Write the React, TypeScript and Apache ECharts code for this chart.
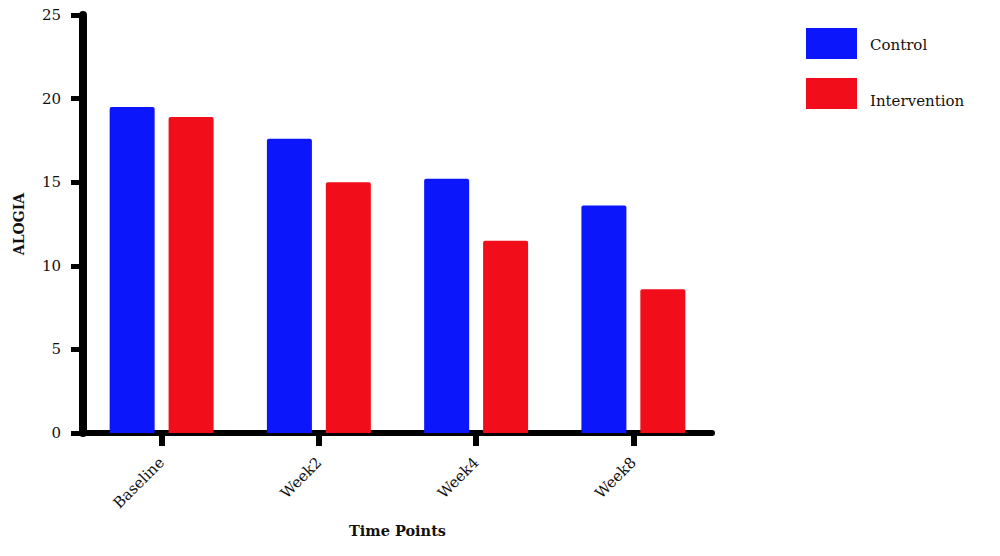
import React, { useEffect, useRef } from "react";
import * as echarts from "echarts";

const categories = ["Baseline", "Week2", "Week4", "Week8"];
const controlValues = [19.5, 17.6, 15.2, 13.6];
const interventionValues = [18.9, 15.0, 11.5, 8.6];
const seriesNames = ["Control", "Intervention"];
const yTicks = { min: 0, max: 25, interval: 5 };

const FONT = "DejaVu Serif";

export default function App() {
  const ref = useRef<HTMLDivElement>(null);
  useEffect(() => {
    if (!ref.current) return;
    const chart = echarts.init(ref.current, undefined, { renderer: "svg" });
    chart.setOption({
      animation: false,
      backgroundColor: "#ffffff",
      textStyle: { fontFamily: FONT },
      grid: { left: 83, right: 288, top: 15, bottom: 123, containLabel: false },
      legend: {
        orient: "vertical",
        left: 806,
        top: 28,
        padding: 0,
        itemWidth: 51,
        itemHeight: 31,
        itemGap: 19,
        icon: "rect",
        formatter: (name: string) => (name === seriesNames[0] ? `{a|${name}}` : `{b|${name}}`),
        textStyle: {
          fontFamily: FONT,
          fontSize: 15,
          color: "#111",
          padding: [0, 0, 0, 8],
          rich: {
            a: { fontFamily: FONT, fontSize: 15, color: "#111", padding: [2, 0, 0, 0] },
            b: { fontFamily: FONT, fontSize: 15, color: "#111", padding: [14, 0, 0, 0] },
          },
        },
        data: seriesNames,
      },
      xAxis: {
        type: "category",
        data: categories,
        name: "Time Points",
        nameLocation: "middle",
        nameGap: 90,
        nameTextStyle: { fontFamily: FONT, fontSize: 14.5, fontWeight: "bold", color: "#111" },
        axisLine: { lineStyle: { color: "#000", width: 6 } },
        axisTick: { show: true, alignWithLabel: true, length: 13, lineStyle: { color: "#000", width: 6 } },
        axisLabel: { rotate: 45, margin: 27, fontFamily: FONT, fontSize: 15, color: "#111" },
        splitLine: { show: false },
      },
      yAxis: {
        type: "value",
        min: yTicks.min,
        max: yTicks.max,
        interval: yTicks.interval,
        name: "ALOGIA",
        nameLocation: "middle",
        nameGap: 57,
        nameTextStyle: { fontFamily: FONT, fontSize: 14, fontWeight: "bold", color: "#111" },
        axisLine: { show: true, lineStyle: { color: "#000", width: 8 } },
        axisTick: { show: true, length: 12, lineStyle: { color: "#000", width: 5 } },
        axisLabel: { margin: 22, fontFamily: FONT, fontSize: 15, color: "#111" },
        splitLine: { show: false },
      },
      series: [
        {
          name: seriesNames[0],
          type: "bar",
          data: controlValues,
          barWidth: 45,
          barGap: "31%",
          itemStyle: { color: "#0b16fb", borderRadius: [2, 2, 0, 0] },
          z: 1,
        },
        {
          name: seriesNames[1],
          type: "bar",
          data: interventionValues,
          barWidth: 45,
          barGap: "31%",
          itemStyle: { color: "#f20d1b", borderRadius: [2, 2, 0, 0] },
          z: 1,
        },
      ],
    });
    return () => chart.dispose();
  }, []);
  return <div ref={ref} style={{ width: 1000, height: 556, position: "absolute", left: 0, top: 0 }} />;
}
